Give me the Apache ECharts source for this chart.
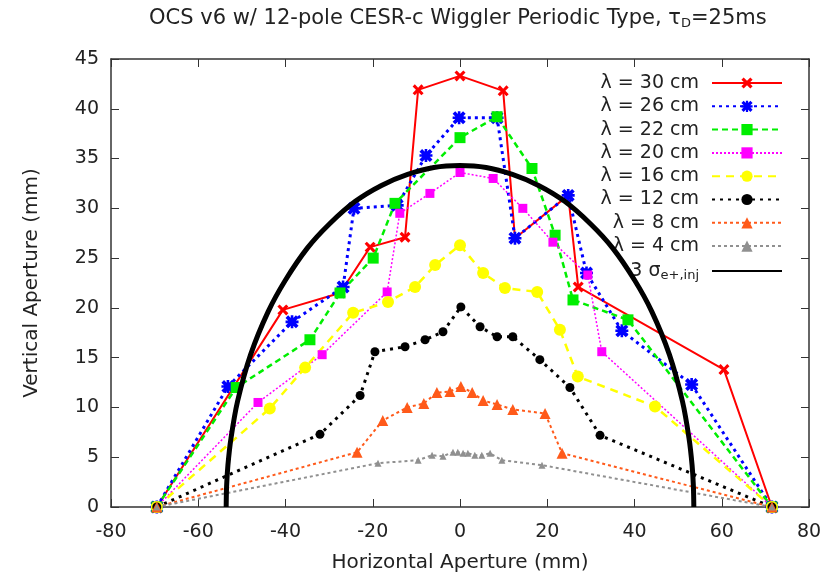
<!DOCTYPE html>
<html>
<head>
<meta charset="utf-8">
<script src="https://cdn.jsdelivr.net/npm/echarts@6/dist/echarts.min.js"></script>
<style>
  html, body { margin: 0; padding: 0; background: #fff; }
  #chart { width: 833px; height: 578px; }
</style>
</head>
<body>
<div id="chart"></div>
<script>
// 读图得到的数据 (x: mm, y: mm)
const lam30 = [[-69.5, 0], [-40.6, 19.8], [-27.5, 21.5], [-20.6, 26.1], [-12.6, 27.1], [-9.6, 41.9], [0, 43.3], [9.9, 41.8], [12.6, 27.0], [24.8, 31.3], [27.1, 22.1], [60.5, 13.8], [71.5, 0]]
const lam26 = [[-69.5, 0], [-53.2, 12.1], [-38.5, 18.6], [-26.8, 22.1], [-24.3, 30.0], [-14.4, 30.3], [-7.8, 35.3], [-0.2, 39.1], [8.5, 39.1], [12.6, 27.0], [24.8, 31.3], [29.0, 23.5], [37.1, 17.7], [53.1, 12.3], [71.5, 0]]
const lam22 = [[-69.5, 0], [-51.3, 12.0], [-34.4, 16.8], [-27.5, 21.5], [-19.9, 25.0], [-14.9, 30.5], [0, 37.1], [8.5, 39.2], [16.5, 34.0], [21.8, 27.3], [25.9, 20.8], [38.5, 18.8], [71.5, 0]]
const lam20 = [[-69.5, 0], [-46.3, 10.5], [-31.6, 15.3], [-16.7, 21.6], [-13.8, 29.5], [-6.9, 31.5], [0, 33.6], [7.6, 33.0], [14.4, 30.0], [21.3, 26.6], [29.3, 23.3], [32.5, 15.6], [71.5, 0]]
const lam16 = [[-69.5, 0], [-43.6, 9.9], [-35.5, 14.0], [-24.5, 19.5], [-16.5, 20.6], [-10.3, 22.1], [-5.7, 24.3], [0, 26.3], [5.3, 23.5], [10.3, 22.0], [17.7, 21.6], [22.9, 17.8], [27.0, 13.1], [44.7, 10.1], [71.5, 0]]
const lam12 = [[-69.5, 0], [-32.1, 7.3], [-22.9, 11.2], [-19.5, 15.6], [-12.6, 16.1], [-8.0, 16.8], [-3.9, 17.6], [0.2, 20.1], [4.6, 18.1], [8.5, 17.1], [12.1, 17.1], [18.3, 14.8], [25.2, 12.0], [32.1, 7.2], [71.5, 0]]
const lam8 = [[-69.5, 0], [-23.6, 5.5], [-17.7, 8.7], [-12.1, 10.0], [-8.3, 10.4], [-5.3, 11.5], [-2.3, 11.6], [0.2, 12.1], [2.8, 11.5], [5.3, 10.7], [8.5, 10.3], [12.1, 9.8], [19.5, 9.4], [23.4, 5.4], [71.5, 0]]
const lam4 = [[-69.5, 0], [-18.8, 4.4], [-9.6, 4.7], [-6.4, 5.2], [-3.9, 5.1], [-1.6, 5.5], [-0.5, 5.5], [0.7, 5.4], [1.8, 5.4], [3.4, 5.2], [5.0, 5.2], [6.9, 5.4], [9.6, 4.7], [18.8, 4.2], [71.5, 0]]
const sigma3 = [[-53.6, 0], [-53.5, 2.1], [-53.2, 4.2], [-52.5, 6.9], [-51, 10.6], [-48, 15.3], [-44, 19.6], [-40, 22.8], [-35, 26.0], [-30, 28.4], [-24, 30.7], [-18, 32.3], [-12, 33.4], [-6, 34.1], [0, 34.3], [6, 34.1], [12, 33.4], [18, 32.3], [24, 30.7], [30, 28.4], [35, 26.0], [40, 22.8], [44, 19.6], [48, 15.3], [51, 10.6], [52.5, 6.9], [53.2, 4.2], [53.5, 2.1], [53.6, 0]]

const names = ['λ = 30 cm', 'λ = 26 cm', 'λ = 22 cm', 'λ = 20 cm', 'λ = 16 cm', 'λ = 12 cm', 'λ = 8 cm', 'λ = 4 cm', '3σ']
const xTicks = { min: -80, max: 80, interval: 20 }
const yTicks = { min: 0, max: 45, interval: 5 }

const FONT = 'DejaVu Sans'
const crossPath = 'path://M2,0L5,3L8,0L10,2L7,5L10,8L8,10L5,7L2,10L0,8L3,5L0,2Z'
const starPath = 'path://M2,0L5,3L8,0L10,2L7,5L10,8L8,10L5,7L2,10L0,8L3,5L0,2Z M4,0H6V4H10V6H6V10H4V6H0V4H4Z'

// 每条曲线的样式
const styles = [
  { data: lam30, color: '#ff0000', type: 'solid', width: 2, symbol: crossPath, size: 11 },
  { data: lam26, color: '#0000ff', type: [3, 4], width: 3, symbol: starPath, size: 13 },
  { data: lam22, color: '#00ee00', type: [6, 4], width: 2.5, symbol: 'rect', size: 11 },
  { data: lam20, color: '#ff00ff', type: [2, 2], width: 1.5, symbol: 'rect', size: 9 },
  { data: lam16, color: '#ffff00', type: [8, 6], width: 2.5, symbol: 'circle', size: 12 },
  { data: lam12, color: '#000000', type: [3, 5], width: 3, symbol: 'circle', size: 9 },
  { data: lam8, color: '#ff5a1a', type: [3, 3], width: 2, symbol: 'triangle', size: 11 },
  { data: lam4, color: '#909090', type: [3, 3], width: 2, symbol: 'triangle', size: 7 }
]

const series = styles.map((s, i) => ({
  name: names[i],
  type: 'line',
  data: s.data,
  symbol: s.symbol,
  symbolSize: s.size,
  showAllSymbol: true,
  clip: false,
  itemStyle: { color: s.color },
  lineStyle: { color: s.color, width: s.width, type: s.type }
}))

series.push({
  name: '3σ',
  type: 'line',
  data: sigma3,
  smooth: 0.3,
  symbol: 'none',
  z: 5,
  itemStyle: { color: '#000' },
  lineStyle: { color: '#000', width: 5 }
})

const chart = echarts.init(document.getElementById('chart'))

const axisLine = { show: true, onZero: false, lineStyle: { color: '#333', width: 1.5 } }
const axisTick = { show: true, inside: true, length: 8, lineStyle: { color: '#333', width: 1 } }

const subStyle = { fontFamily: FONT, fontSize: 13, color: '#222', lineHeight: 10, padding: [10, 0, 0, 0] }

const option = {
  backgroundColor: '#fff',
  animation: false,
  title: {
    text: 'OCS v6 w/ 12-pole CESR-c Wiggler Periodic Type, τ{sub|D}=25ms',
    left: 144,
    top: 3,
    textStyle: {
      fontFamily: FONT,
      fontSize: 21,
      fontWeight: 'normal',
      color: '#222',
      lineHeight: 22,
      rich: { sub: subStyle }
    }
  },
  grid: { left: 111, right: 24, top: 59, bottom: 71 },
  legend: {
    data: names.map(n => n === '3σ' ? { name: n, itemStyle: { opacity: 0 } } : n),
    orient: 'vertical',
    right: 45,
    top: 68,
    align: 'right',
    itemWidth: 70,
    itemHeight: 14,
    itemGap: 3.3,
    selectedMode: false,
    textStyle: {
      fontFamily: FONT,
      fontSize: 19,
      lineHeight: 20,
      color: '#222',
      padding: [0, 8, 0, 0],
      rich: { sub: subStyle }
    },
    formatter: (name) => name === '3σ' ? '3 σ{sub|e+,inj}' : name
  },
  xAxis: [
    {
      type: 'value', ...xTicks, position: 'bottom',
      name: 'Horizontal Aperture (mm)', nameLocation: 'middle', nameGap: 46,
      nameTextStyle: { fontFamily: FONT, fontSize: 20, color: '#222' },
      axisLine, axisTick,
      axisLabel: { fontFamily: FONT, fontSize: 19, color: '#222', margin: 16 },
      splitLine: { show: false }
    },
    {
      type: 'value', ...xTicks, position: 'top',
      axisLine, axisTick,
      axisLabel: { show: false },
      splitLine: { show: false }
    }
  ],
  yAxis: [
    {
      type: 'value', ...yTicks, position: 'left',
      name: 'Vertical Aperture (mm)', nameLocation: 'middle', nameGap: 69,
      nameTextStyle: { fontFamily: FONT, fontSize: 20, color: '#222' },
      axisLine, axisTick,
      axisLabel: { fontFamily: FONT, fontSize: 19, color: '#222', margin: 12 },
      splitLine: { show: false }
    },
    {
      type: 'value', ...yTicks, position: 'right',
      axisLine, axisTick,
      axisLabel: { show: false },
      splitLine: { show: false }
    }
  ],
  series
}

chart.setOption(option)
</script>
</body>
</html>
